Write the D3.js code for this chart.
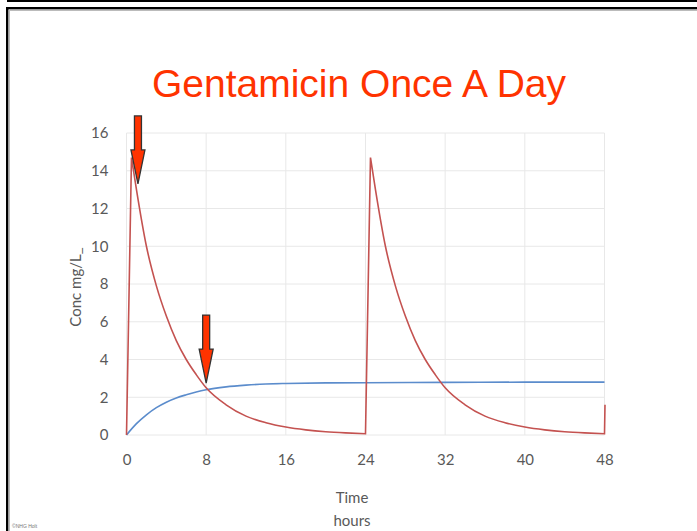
<!DOCTYPE html>
<html>
<head>
<meta charset="utf-8">
<script src="https://cdn.jsdelivr.net/npm/d3@7"></script>
<style>
  html, body { margin: 0; padding: 0; background: #fff; }
  svg { display: block; }
  .tick text { font-family: Lato, "Open Sans", sans-serif; font-size: 15px; fill: #595959; }
</style>
</head>
<body>
<div id="chart"></div>
<script>
// hours after first dose
const redHours = [0, 0.5, 1, 2, 3, 4, 5, 6, 7, 8, 10, 12, 14, 16, 18, 20, 22, 24,
  24.5, 25, 26, 27, 28, 29, 30, 31, 32, 34, 36, 38, 40, 42, 44, 46, 48, 48.05];
const redConc = [0, 14.7, 13.0, 10.0, 7.9, 6.3, 5.0, 4.0, 3.2, 2.5, 1.6, 1.0, 0.65, 0.42, 0.27, 0.17, 0.11, 0.07,
  14.7, 13.0, 10.0, 7.9, 6.3, 5.0, 4.0, 3.2, 2.5, 1.6, 1.0, 0.65, 0.42, 0.27, 0.17, 0.11, 0.07, 1.6];

const blueHours = [0, 1, 2, 3, 4, 5, 6, 7, 8, 10, 12, 14, 16, 20, 24, 32, 40, 48];
const blueConc = [0, 0.6, 1.07, 1.45, 1.74, 1.96, 2.13, 2.28, 2.4, 2.55, 2.64, 2.7, 2.73, 2.76, 2.77, 2.79, 2.8, 2.8];

const xTicks = [0, 8, 16, 24, 32, 40, 48];
const yTicks = [0, 2, 4, 6, 8, 10, 12, 14, 16];

// arrow annotations: where the tips point
const arrowHours = [1.15, 8];
const arrowConc = [13.3, 2.75];

const W = 697, H = 531;

const svg = d3.select("#chart").append("svg")
  .attr("width", W)
  .attr("height", H);

// slide frame
svg.append("rect").attr("x", 7).attr("y", 0).attr("width", W - 7).attr("height", 2).attr("fill", "#000");
svg.append("rect").attr("x", 6).attr("y", 7).attr("width", W - 6).attr("height", 2.5).attr("fill", "#000");
svg.append("rect").attr("x", 9).attr("y", 9.5).attr("width", W - 9).attr("height", 1.5).attr("fill", "#bbb");
svg.append("rect").attr("x", 6).attr("y", 7).attr("width", 2.5).attr("height", H - 7).attr("fill", "#000");
svg.append("rect").attr("x", 8.5).attr("y", 9.5).attr("width", 1.5).attr("height", H - 9.5).attr("fill", "#bbb");

const x = d3.scaleLinear().domain([0, 48]).range([126.5, 604.5]);
const y = d3.scaleLinear().domain([0, 16]).range([435, 133]);

// grid
const grid = svg.append("g");
grid.selectAll(".gx").data(xTicks).enter().append("line")
  .attr("x1", d => x(d)).attr("x2", d => x(d))
  .attr("y1", y(0)).attr("y2", y(16))
  .attr("stroke", "#e8e8e8").attr("stroke-width", 1);
grid.selectAll(".gy").data(yTicks).enter().append("line")
  .attr("x1", x(0)).attr("x2", x(48))
  .attr("y1", d => y(d)).attr("y2", d => y(d))
  .attr("stroke", "#e8e8e8").attr("stroke-width", 1);

const yAxisG = svg.append("g")
  .attr("transform", "translate(" + x(0) + ",0)")
  .call(d3.axisLeft(y).tickValues(yTicks).tickSize(0).tickPadding(18));
yAxisG.select(".domain").remove();

const xAxisG = svg.append("g")
  .attr("transform", "translate(0," + y(0) + ")")
  .call(d3.axisBottom(x).tickValues(xTicks).tickSize(0).tickPadding(19));
xAxisG.select(".domain").remove();

const smooth = d3.line()
  .x(d => x(d[0]))
  .y(d => y(d[1]))
  .curve(d3.curveMonotoneX);

svg.append("path")
  .datum(blueHours.map((h, i) => [h, blueConc[i]]))
  .attr("d", smooth)
  .attr("fill", "none")
  .attr("stroke", "#5b8ccc")
  .attr("stroke-width", 1.6);

// red: doses rise straight, elimination phases are smooth curves
const redPts = redHours.map((h, i) => [h, redConc[i]]);
const redSegs = [];
let cur = [redPts[0]];
for (let i = 1; i < redPts.length; i++) {
  const rising = redPts[i][1] > redPts[i - 1][1];
  if (rising) {
    if (cur.length > 1) redSegs.push(cur);
    redSegs.push([redPts[i - 1], redPts[i]]);
    cur = [redPts[i]];
  } else {
    cur.push(redPts[i]);
  }
}
if (cur.length > 1) redSegs.push(cur);

const redD = redSegs.map((s, i) => {
  const d = smooth(s);
  return i === 0 ? d : "L" + d.slice(1);
}).join("");

svg.append("path")
  .attr("d", redD)
  .attr("fill", "none")
  .attr("stroke", "#c45250")
  .attr("stroke-width", 1.6)
  .attr("stroke-linejoin", "miter");

// arrows
const arrowPath = (tx, ty) => {
  const sw = 3.5, hw = 7, hl = 34, len = 68;
  return "M" + tx + "," + ty +
    "L" + (tx - hw) + "," + (ty - hl) +
    "L" + (tx - sw) + "," + (ty - hl) +
    "L" + (tx - sw) + "," + (ty - len) +
    "L" + (tx + sw) + "," + (ty - len) +
    "L" + (tx + sw) + "," + (ty - hl) +
    "L" + (tx + hw) + "," + (ty - hl) + "Z";
};

svg.selectAll(".arrow").data(arrowHours).enter().append("path")
  .attr("d", (d, i) => arrowPath(x(d), y(arrowConc[i])))
  .attr("fill", "#ff3300")
  .attr("stroke", "#333")
  .attr("stroke-width", 1.3)
  .attr("stroke-linejoin", "miter");

// title
svg.append("text")
  .attr("x", 359).attr("y", 97)
  .attr("text-anchor", "middle")
  .attr("font-family", "'Liberation Sans', Arial, sans-serif")
  .attr("font-size", 39)
  .attr("fill", "#ff3300")
  .text("Gentamicin Once A Day");

// axis titles
svg.append("text")
  .attr("transform", "translate(76,287) rotate(-90)")
  .attr("text-anchor", "middle")
  .attr("dy", "0.35em")
  .attr("font-family", "Lato, 'Open Sans', sans-serif")
  .attr("font-size", 15)
  .attr("fill", "#595959")
  .text("Conc mg/L_");

svg.append("text")
  .attr("x", 352).attr("y", 498)
  .attr("text-anchor", "middle")
  .attr("dy", "0.35em")
  .attr("font-family", "Lato, 'Open Sans', sans-serif")
  .attr("font-size", 15)
  .attr("fill", "#595959")
  .text("Time");

svg.append("text")
  .attr("x", 352).attr("y", 521)
  .attr("text-anchor", "middle")
  .attr("dy", "0.35em")
  .attr("font-family", "Lato, 'Open Sans', sans-serif")
  .attr("font-size", 15)
  .attr("fill", "#595959")
  .text("hours");

svg.append("text")
  .attr("x", 12).attr("y", 528)
  .attr("font-family", "'Liberation Sans', Arial, sans-serif")
  .attr("font-size", 5)
  .attr("fill", "#777")
  .text("©NHG Holt");
</script>
</body>
</html>
